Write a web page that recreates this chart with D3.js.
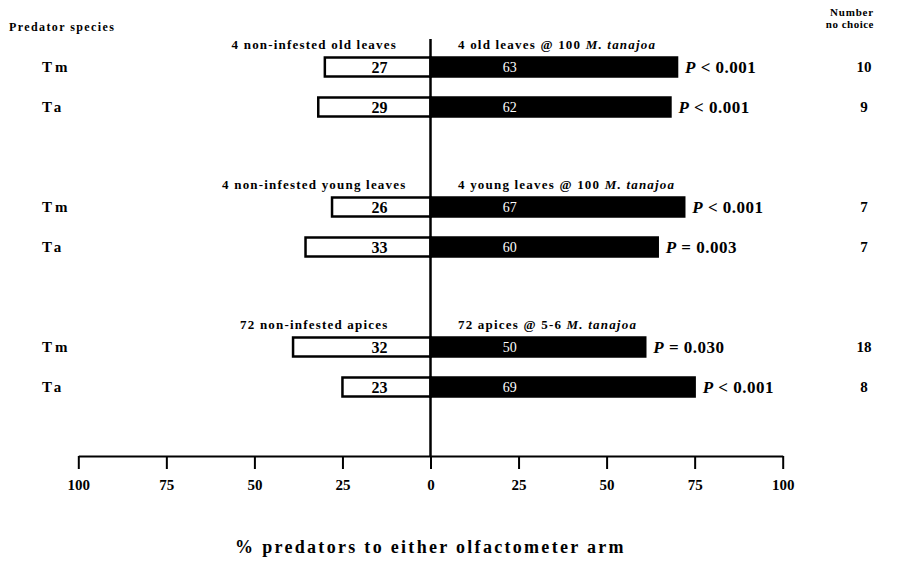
<!DOCTYPE html>
<html><head><meta charset="utf-8">
<script src="https://cdn.jsdelivr.net/npm/d3@7"></script>
<style>
body{margin:0;background:#fff;}
svg{display:block;font-family:"Liberation Serif","Times New Roman",serif;font-weight:bold;}
</style></head>
<body>
<svg id="chart" width="900" height="563"></svg>
<script>
// ---- data ----
const groupIndex = [0, 0, 1, 1, 2, 2];
const species = ["Tm", "Ta", "Tm", "Ta", "Tm", "Ta"];
const controlPct = [27, 29, 26, 33, 32, 23];      // % to non-infested arm
const infestedPct = [63, 62, 67, 60, 50, 69];     // % to infested arm
const noChoice = [10, 9, 7, 7, 18, 8];            // % making no choice
const pOperator = ["<", "<", "<", "=", "=", "<"];
const pValue = ["0.001", "0.001", "0.001", "0.003", "0.030", "0.001"];
const controlLabels = ["4 non-infested old leaves", "4 non-infested young leaves", "72 non-infested apices"];
const infestedLabels = ["4 old leaves @ 100 ", "4 young leaves @ 100 ", "72 apices @ 5-6 "];
const infestedSpecies = "M. tanajoa";
const tickValues = [-100, -75, -50, -25, 0, 25, 50, 75, 100];

// ---- layout ----
const svg = d3.select("#chart");
const x = d3.scaleLinear().domain([-100, 100]).range([78.3, 782.7]);
const slot = i => groupIndex[i] * 3.5 + (i % 2);
const y = d3.scaleLinear().domain([0, 1]).range([67, 107]);
const barH = 19;
const axisY = 456;

// bar extents: share among predators that made a choice
const ctrlShare = controlPct.map((c, i) => c / (c + infestedPct[i]) * 100);
const infShare = infestedPct.map((t, i) => t / (controlPct[i] + t) * 100);

const rows = species.map((s, i) => ({i, s}));

// black bars (infested arm)
svg.selectAll("rect.inf").data(rows).join("rect")
  .attr("class", "inf")
  .attr("x", x(0))
  .attr("y", d => y(slot(d.i)) - barH / 2)
  .attr("width", d => x(infShare[d.i]) - x(0))
  .attr("height", barH)
  .attr("fill", "#000").attr("stroke", "#000").attr("stroke-width", 2.5);

// white bars (control arm)
svg.selectAll("rect.ctrl").data(rows).join("rect")
  .attr("class", "ctrl")
  .attr("x", d => x(-ctrlShare[d.i]))
  .attr("y", d => y(slot(d.i)) - barH / 2)
  .attr("width", d => x(0) - x(-ctrlShare[d.i]))
  .attr("height", barH)
  .attr("fill", "#fff").attr("stroke", "#000").attr("stroke-width", 2.5);

// centre line
svg.append("line")
  .attr("x1", x(0)).attr("x2", x(0))
  .attr("y1", 39).attr("y2", axisY)
  .attr("stroke", "#000").attr("stroke-width", 2.5);

// values inside bars
svg.selectAll("text.cval").data(rows).join("text")
  .attr("class", "cval")
  .attr("x", x(-14.5)).attr("y", d => y(slot(d.i)) + 6)
  .attr("text-anchor", "middle").attr("font-size", 16)
  .text(d => controlPct[d.i]);
svg.selectAll("text.ival").data(rows).join("text")
  .attr("class", "ival")
  .attr("x", x(22.5)).attr("y", d => y(slot(d.i)) + 5)
  .attr("text-anchor", "middle").attr("font-size", 14)
  .attr("font-weight", "normal").attr("fill", "#fff")
  .text(d => infestedPct[d.i]);

// P values
const pt = svg.selectAll("text.p").data(rows).join("text")
  .attr("class", "p")
  .attr("x", d => x(infShare[d.i]) + 8).attr("y", d => y(slot(d.i)) + 6)
  .attr("font-size", 17).attr("letter-spacing", 0.5);
pt.append("tspan").attr("font-style", "italic").text("P");
pt.append("tspan").text(d => " " + pOperator[d.i] + " " + pValue[d.i]);

// species labels
svg.selectAll("text.sp").data(rows).join("text")
  .attr("class", "sp")
  .attr("x", 42).attr("y", d => y(slot(d.i)) + 5)
  .attr("font-size", 15).attr("letter-spacing", 3)
  .text(d => d.s);

// no-choice numbers
svg.selectAll("text.nc").data(rows).join("text")
  .attr("class", "nc")
  .attr("x", 864).attr("y", d => y(slot(d.i)) + 5)
  .attr("text-anchor", "middle").attr("font-size", 15)
  .text(d => noChoice[d.i]);

// group labels
const gIdx = [0, 1, 2];
svg.selectAll("text.gl").data(gIdx).join("text")
  .attr("class", "gl")
  .attr("x", x(-33)).attr("y", g => y(g * 3.5) - barH / 2 - 9)
  .attr("text-anchor", "middle").attr("font-size", 13).attr("letter-spacing", 1.2)
  .text(g => controlLabels[g]);
const gr = svg.selectAll("text.gr").data(gIdx).join("text")
  .attr("class", "gr")
  .attr("x", 458).attr("y", g => y(g * 3.5) - barH / 2 - 9)
  .attr("font-size", 13).attr("letter-spacing", 1.2);
gr.append("tspan").text(g => infestedLabels[g]);
gr.append("tspan").attr("font-style", "italic").text(infestedSpecies);

// headers
svg.append("text").attr("x", 9).attr("y", 31).attr("font-size", 12).attr("letter-spacing", 1.4).text("Predator species");
svg.append("text").attr("x", 874).attr("y", 16).attr("text-anchor", "end").attr("font-size", 11).attr("letter-spacing", 0.8).text("Number");
svg.append("text").attr("x", 874).attr("y", 28).attr("text-anchor", "end").attr("font-size", 11).attr("letter-spacing", 0.5).text("no choice");

// axis
const axis = d3.axisBottom(x).tickValues(tickValues)
  .tickFormat(d => Math.abs(d)).tickSize(13).tickSizeOuter(0).tickPadding(10);
const ag = svg.append("g").attr("transform", `translate(0,${axisY})`).call(axis);
ag.select(".domain").attr("stroke-width", 2);
ag.selectAll(".tick line").attr("stroke-width", 2);
ag.selectAll(".tick text").attr("font-size", 15)
  .attr("font-family", "'Liberation Serif','Times New Roman',serif").attr("font-weight", "bold");

// axis title
svg.append("text").attr("x", x(0)).attr("y", 553)
  .attr("text-anchor", "middle").attr("font-size", 18).attr("letter-spacing", 2.3)
  .text("% predators to either olfactometer arm");
</script>
</body></html>
